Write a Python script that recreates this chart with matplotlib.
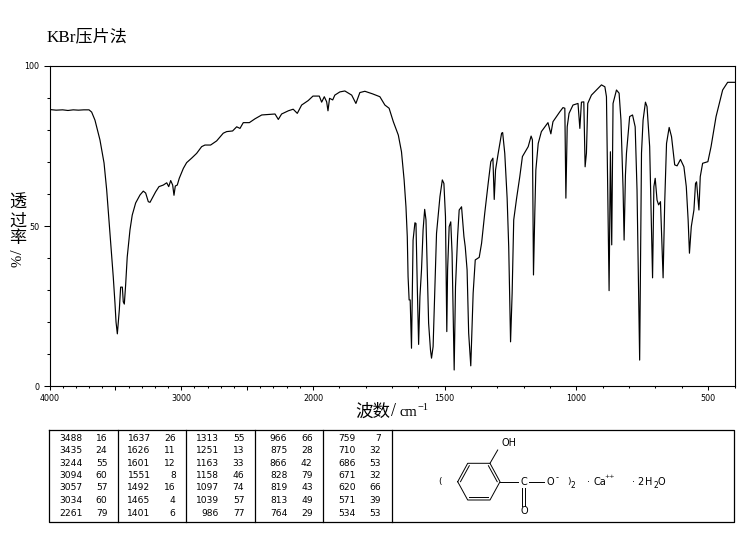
import numpy as np
import matplotlib
matplotlib.use('Agg')
import matplotlib.pyplot as plt

# spectrum: wavenumber (cm-1), transmittance (%)
wavenumber = [4000, 3950, 3900, 3860, 3820, 3780, 3740, 3700, 3680, 3655, 3617, 3586, 3566, 3541, 3516, 3503, 3495, 3485,
              3470, 3460, 3447, 3440, 3432, 3422, 3410, 3389, 3372, 3346, 3313, 3288, 3270, 3250, 3237, 3220, 3194,
              3169, 3136, 3110, 3095, 3080, 3065, 3055, 3045, 3030, 3015, 2984, 2959, 2921, 2883, 2845, 2820, 2777,
              2731, 2681, 2655, 2610, 2579, 2554, 2529, 2483, 2440, 2389, 2288, 2263, 2238, 2187, 2150, 2119, 2086,
              2036, 2000, 1976, 1967, 1957, 1948, 1943, 1937, 1925, 1917, 1898, 1879, 1853, 1837, 1822, 1803, 1774,
              1746, 1727, 1711, 1695, 1676, 1664, 1654, 1647, 1642, 1639, 1635, 1631, 1626, 1622, 1620, 1613, 1609,
              1604, 1599, 1594, 1588, 1582, 1576, 1571, 1566, 1561, 1554, 1550, 1544, 1537, 1531, 1518, 1509, 1503,
              1497, 1492, 1489, 1483, 1477, 1472, 1464, 1459, 1451, 1445, 1436, 1427, 1422, 1415, 1409, 1401, 1392,
              1384, 1369, 1360, 1348, 1335, 1325, 1317, 1312, 1307, 1297, 1284, 1280, 1272, 1263, 1257, 1250, 1244,
              1238, 1227, 1215, 1205, 1183, 1172, 1167, 1163, 1158, 1154, 1145, 1133, 1108, 1097, 1089, 1063, 1051,
              1044, 1040, 1035, 1028, 1013, 994, 987, 981, 972, 967, 962, 957, 943, 905, 892, 886, 876, 871, 866, 861,
              848, 838, 831, 823, 819, 814, 810, 798, 787, 777, 770, 760, 753, 747, 738, 732, 722, 711, 706, 701, 694,
              688, 681, 671, 665, 658, 648, 639, 627, 618, 605, 592, 583, 576, 571, 564, 554, 548, 544, 535, 530, 521,
              501, 489, 470, 445, 426, 400]
transmittance = [86.4, 86.2, 86.3, 86.1, 86.3, 86.2, 86.3, 86.3, 85.6, 83.1, 76.9, 69.7, 61.3, 47.8, 34.1, 25.9, 20, 16.3,
                 23.8, 30.9, 30.9, 26.3, 25.6, 31.6, 40.3, 48.8, 53.4, 57.2, 59.7, 60.9, 60.3, 57.6, 57.4, 58.7, 60.7,
                 62.3, 62.8, 63.5, 62.3, 64.2, 62.8, 59.6, 62.5, 62.8, 64.9, 68, 69.8, 71.2, 72.7, 74.8, 75.3, 75.3,
                 76.6, 79, 79.5, 79.7, 81, 80.5, 82.3, 82.3, 83.5, 84.7, 85, 83.3, 85, 86, 86.5, 85.2, 87.8,
                 89.2, 90.6, 90.6, 88.7, 90.4, 88.8, 86, 89.9, 89.4, 90.9, 91.9, 92.2, 90.9, 88.3, 91.7, 92.1, 91.3,
                 90.4, 87.8, 86.8, 82.6, 78.4, 73.2, 64.4, 56, 46.7, 34.2, 26.9, 26.9, 11.8, 33.1, 45.6, 51, 50.8,
                 31, 13, 27.9, 36.3, 48.8, 55.2, 51.9, 35.2, 19.6, 11.3, 8.7, 12.3, 31, 47.7, 59.2, 64.4, 63.3,
                 52.9, 17, 36.3, 49.8, 51.3, 41.5, 5, 31, 46.7, 55, 56, 46.7, 43.5, 36.3, 16.5, 6.3, 29,
                 39.4, 40.2, 44.6, 54, 63.3, 70.1, 71.2, 58.3, 67.5, 72.7, 79, 79.2, 72.7, 58.7, 43.5, 13.8, 29,
                 51.9, 58.7, 65.4, 71.7, 74.8, 78.1, 76.9, 34.7, 54, 67.5, 75.8, 79.5, 82.3, 78.8, 82.6, 85.7, 87,
                 86.8, 58.7, 81, 85.2, 87.8, 88.3, 80.5, 88.7, 88.8, 68.5, 72.8, 88.3, 90.9, 94.1, 93.5, 90.4, 29.8, 73.2, 44.1, 88.3,
                 92.5, 91.5, 83.1, 61.8, 45.6, 65.9, 72.8, 84.2, 84.7, 81, 61.3, 8.1, 72.8, 83.1, 88.7, 87.3, 74.8, 33.8, 62.3, 64.9, 58.1,
                 56.6, 57.6, 33.8, 57.1, 75.8, 80.8, 77.9, 69.1, 68.8, 70.8, 68.5, 62.3, 51.9, 41.5, 49.8, 55, 63.3, 63.8, 55, 65.4, 69.6,
                 70.1, 74.8, 84.2, 92.5, 94.9, 94.9]

x_major = [4000, 3500, 3000, 2500, 2000, 1500, 1000, 500]
x_labels = ['4000', '', '3000', '', '2000', '1500', '1000', '500']
y_major = [0, 50, 100]
y_labels = ['0', '50', '100']

# peak table
peak_wn = [['3488', '3435', '3244', '3094', '3057', '3034', '2261'],
           ['1637', '1626', '1601', '1551', '1492', '1465', '1401'],
           ['1313', '1251', '1163', '1158', '1097', '1039', '986'],
           ['966', '875', '866', '828', '819', '813', '764'],
           ['759', '710', '686', '671', '620', '571', '534']]
peak_t = [['16', '24', '55', '60', '57', '60', '79'],
          ['26', '11', '12', '8', '16', '4', '6'],
          ['55', '13', '33', '46', '74', '57', '77'],
          ['66', '28', '42', '79', '43', '49', '29'],
          ['7', '32', '53', '32', '66', '39', '53']]


# the axis is twice as wide per wavenumber below 2000
def forward(w):
    w = np.asarray(w, dtype=float)
    return np.where(w >= 2000, (w - 2000) / 2.0, w - 2000)


def inverse(u):
    u = np.asarray(u, dtype=float)
    return np.where(u >= 0, u * 2.0 + 2000, u + 2000)


fig = plt.figure(figsize=(7.48, 5.39), dpi=100)
W, H = 748.0, 539.0
ax = fig.add_axes([49.5 / W, (H - 386) / H, 685 / W, 320 / H])
ax.set_xscale('function', functions=(forward, inverse))
ax.plot(wavenumber, transmittance, color='k', lw=0.85)
ax.set_xlim(4000, 400)
ax.set_ylim(0, 100)

ax.set_xticks(x_major, x_labels, fontsize=5.8)
ax.set_xticks([w for w in range(400, 4000, 100) if w not in x_major], minor=True)
ax.set_yticks(y_major, y_labels, fontsize=5.8)
ax.set_yticks(range(10, 100, 10), minor=True)
ax.tick_params(axis='x', which='major', length=3, width=0.75, pad=3)
ax.tick_params(axis='x', which='minor', length=1.5, width=0.75)
ax.tick_params(axis='y', which='major', length=4.3, width=0.75, pad=3)
ax.tick_params(axis='y', which='minor', length=2.2, width=0.75)
for s in ax.spines.values():
    s.set_linewidth(0.8)

# overlay in pixel coordinates for the titles, table and structure
ov = fig.add_axes([0, 0, 1, 1], facecolor='none')
ov.set_xlim(0, W)
ov.set_ylim(H, 0)
ov.axis('off')

serif_cjk = ['Liberation Serif', 'Noto Sans CJK SC']
cjk = ['Noto Sans CJK SC', 'DejaVu Sans']
ov.text(47, 37, 'KBr压片法', family=serif_cjk, fontsize=12.3, va='center', ha='left')

for ch, y in zip('透过率', [203, 221, 238.5]):
    ov.text(18, y, ch, family=cjk, fontsize=12.3, ha='center', va='center')
ov.text(18, 252, '/', family=serif_cjk, fontsize=12, rotation=90, ha='center', va='center')
ov.text(18, 261, '%', family=serif_cjk, fontsize=10.5, rotation=90, ha='center', va='center')

# x label, placed in pieces to get the reference spacing
ov.text(355, 411.5, '波数', family=cjk, fontsize=12.6, ha='left', va='center')
ov.text(393.5, 412, '/', family='Liberation Serif', fontsize=13, ha='center', va='center')
ov.text(400, 412, 'cm', family='Liberation Serif', fontsize=10.5, ha='left', va='center')
ov.text(417.5, 407, '−1', family='Liberation Serif', fontsize=7.5, ha='left', va='center')

# table frame
ov.plot([49.5, 734.5, 734.5, 49.5, 49.5], [429.5, 429.5, 521.5, 521.5, 429.5], color='k', lw=0.9)
for xd in [118.5, 186.5, 255.5, 323.5, 392.5]:
    ov.plot([xd, xd], [429.5, 521.5], color='k', lw=0.9)

row_y = [438.7, 450.5, 463.3, 475.7, 487.7, 500.3, 513]
wn_right = [82.5, 150.7, 219, 287.3, 356]
t_right = [107.5, 175.7, 244.3, 312.7, 381]
for c in range(5):
    for r in range(7):
        ov.text(wn_right[c], row_y[r], peak_wn[c][r], fontsize=6.6, ha='right', va='center')
        ov.text(t_right[c], row_y[r], peak_t[c][r], fontsize=6.6, ha='right', va='center')

# salicylate structure
ring_x = [457.7, 467.7, 490, 500, 490, 467.7, 457.7]
ring_y = [481.7, 463.3, 463.3, 481.7, 500, 500, 481.7]
ov.plot(ring_x, ring_y, color='k', lw=0.7)
bonds = [((460.5, 481.7), (469.3, 465.7)), ((488.4, 465.7), (497.2, 481.7)), ((469.3, 497.3), (488.4, 497.3)),
         ((490, 463.3), (497.7, 450)), ((500, 481.7), (518.3, 481.7)), ((529.3, 481.7), (544, 481.7)),
         ((522, 488.3), (522, 506)), ((524.8, 488.3), (524.8, 506))]
for a, b in bonds:
    ov.plot([a[0], b[0]], [a[1], b[1]], color='k', lw=0.7)

labels = [(509.5, 442.7, 'OH', 7), (523.7, 481.7, 'C', 7), (550.7, 481.7, 'O', 7), (557, 477.5, '-', 6),
          (524, 510.7, 'O', 7), (440, 481.7, '(', 6.5), (569, 481.7, ')', 6.5), (573, 486, '2', 5.5),
          (589, 481.7, '·', 7), (599.5, 481.7, 'Ca', 7), (610, 477, '++', 4.5),
          (633.5, 481.7, '·', 7), (640, 481.7, '2', 7), (648.5, 481.7, 'H', 7), (655.5, 486, '2', 5.5),
          (661.7, 481.7, 'O', 7)]
for lx, ly, txt, fs in labels:
    ov.text(lx, ly, txt, fontsize=fs, ha='center', va='center')

fig.savefig('out.png', dpi=100)
